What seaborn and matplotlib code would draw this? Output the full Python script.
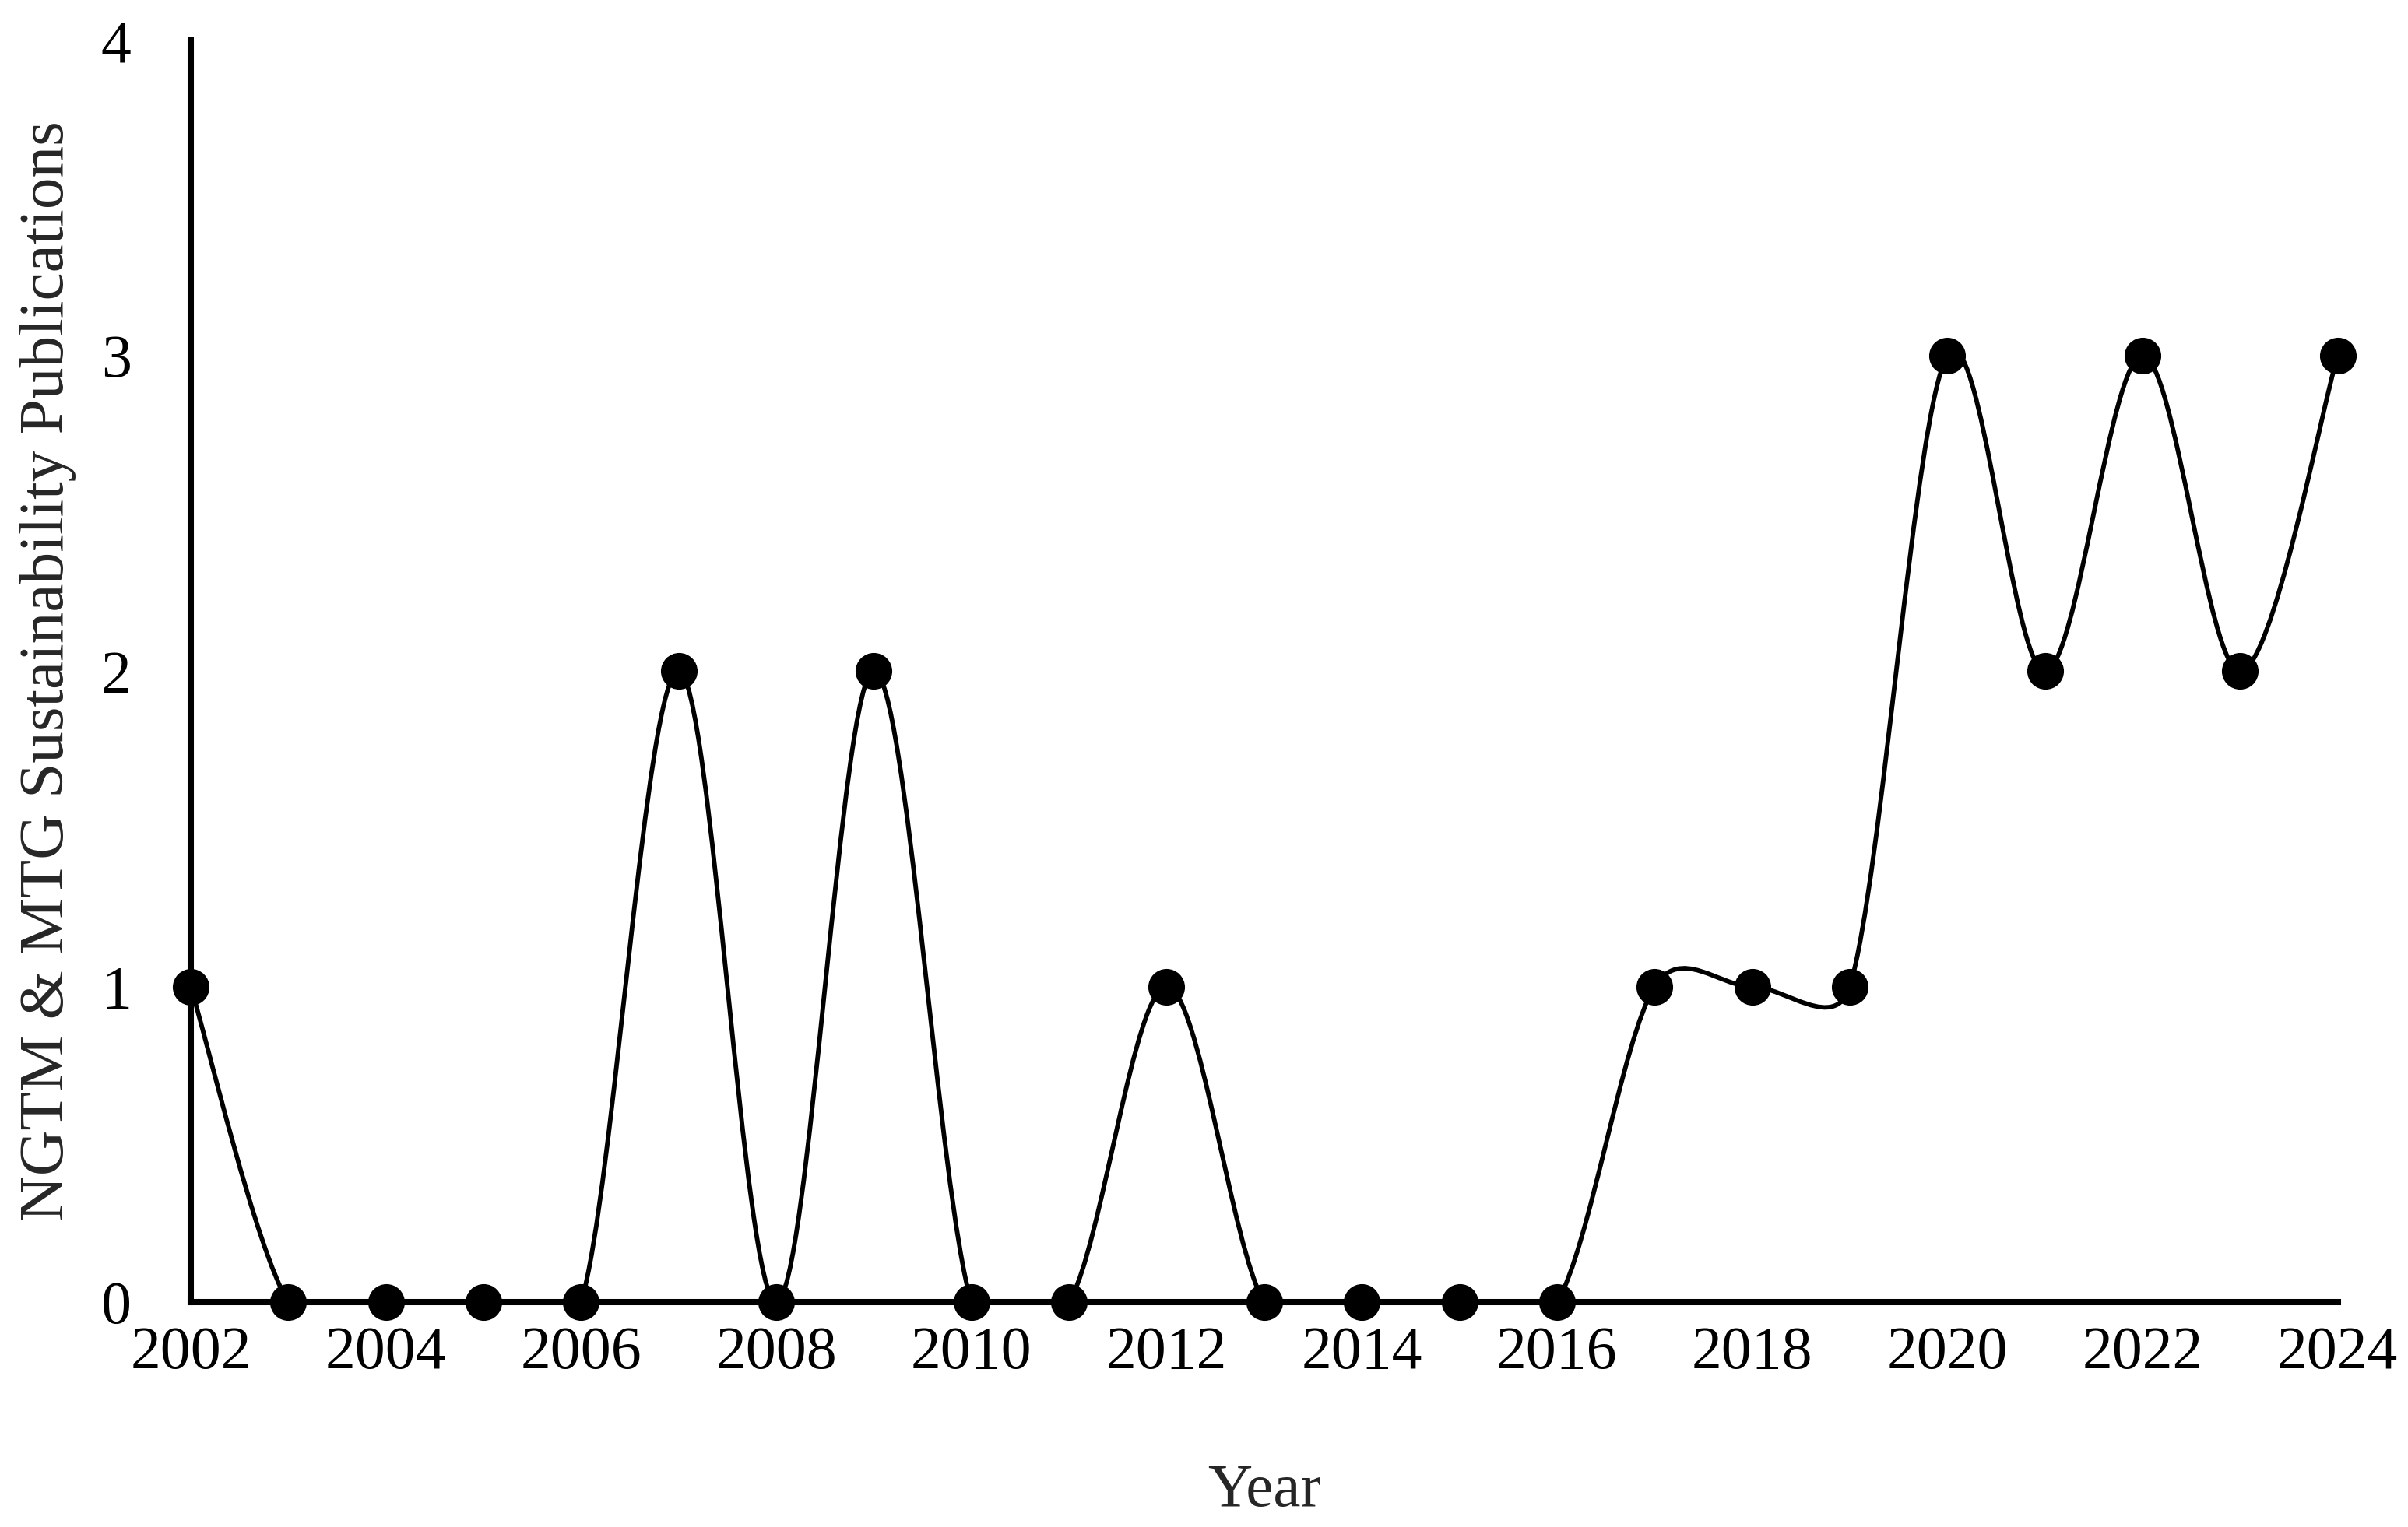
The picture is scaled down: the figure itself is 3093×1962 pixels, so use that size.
import numpy as np
import matplotlib
matplotlib.use("Agg")
import matplotlib.pyplot as plt
import seaborn as sns
from matplotlib.path import Path
from matplotlib.patches import PathPatch

years = [2002, 2003, 2004, 2005, 2006, 2007, 2008, 2009, 2010, 2011, 2012, 2013,
         2014, 2015, 2016, 2017, 2018, 2019, 2020, 2021, 2022, 2023, 2024]
pubs = [1, 0, 0, 0, 0, 2, 0, 2, 0, 0, 1, 0, 0, 0, 0, 1, 1, 1, 3, 2, 3, 2, 3]
x_ticks = list(range(2002, 2025, 2))
y_ticks = [0, 1, 2, 3, 4]


def smooth_path(ax, xs, ys, t=1 / 6):
    # Excel-like smoothed line: Catmull-Rom Bezier, control arm capped at half the segment
    pts = ax.transData.transform(np.column_stack([xs, ys]).astype(float))
    ext = np.vstack([pts[0], pts, pts[-1]])
    verts = [pts[0]]
    codes = [Path.MOVETO]
    for i in range(len(pts) - 1):
        p0, p1, p2, p3 = ext[i], ext[i + 1], ext[i + 2], ext[i + 3]
        d12 = np.linalg.norm(p2 - p1)
        d02 = np.linalg.norm(p2 - p0)
        d13 = np.linalg.norm(p3 - p1)
        f = t if d02 * t < d12 / 2 else d12 / d02 / 2
        g = t if d13 * t < d12 / 2 else d12 / d13 / 2
        c1 = p1 + f * (p2 - p0)
        c2 = p2 - g * (p3 - p1)
        verts += [c1, c2, p2]
        codes += [Path.CURVE4] * 3
    verts = ax.transData.inverted().transform(np.array(verts))
    return Path(verts, codes)


sns.set_style("white")
plt.rcParams['font.family'] = ['Liberation Serif', 'DejaVu Serif']

fig = plt.figure(figsize=(30.93, 19.62), dpi=100)
ax = fig.add_axes([0.0792, 0.1473, 0.8916, 0.8262])
ax.set_xlim(2002, 2024)
ax.set_ylim(0, 4)

ax.add_patch(PathPatch(smooth_path(ax, years, pubs), fill=False, edgecolor='black',
                       linewidth=4.2, zorder=2))
sns.scatterplot(x=years, y=pubs, ax=ax, color='black', s=1150, edgecolor='black',
                linewidth=0, zorder=3, clip_on=False, legend=False)

ax.set_xlim(2002, 2024)
ax.set_ylim(0, 4)
ax.set_xticks(x_ticks)
ax.set_yticks(y_ticks)
ax.set_xticklabels([str(t) for t in x_ticks])
ax.tick_params(axis='both', length=0, labelsize=56, colors='black')
ax.tick_params(axis='x', pad=22)
ax.tick_params(axis='y', pad=55)

for side in ['top', 'right']:
    ax.spines[side].set_visible(False)
for side in ['left', 'bottom']:
    ax.spines[side].set_linewidth(5.8)
    ax.spines[side].set_color('black')
    ax.spines[side].set_zorder(1)

ax.set_xlabel("Year", fontsize=57, labelpad=76)
ax.set_ylabel("NGTM & MTG Sustainability Publications", fontsize=58.5)
ax.yaxis.set_label_coords(-0.0532, 0.5)

fig.savefig("out.png", dpi=100)
